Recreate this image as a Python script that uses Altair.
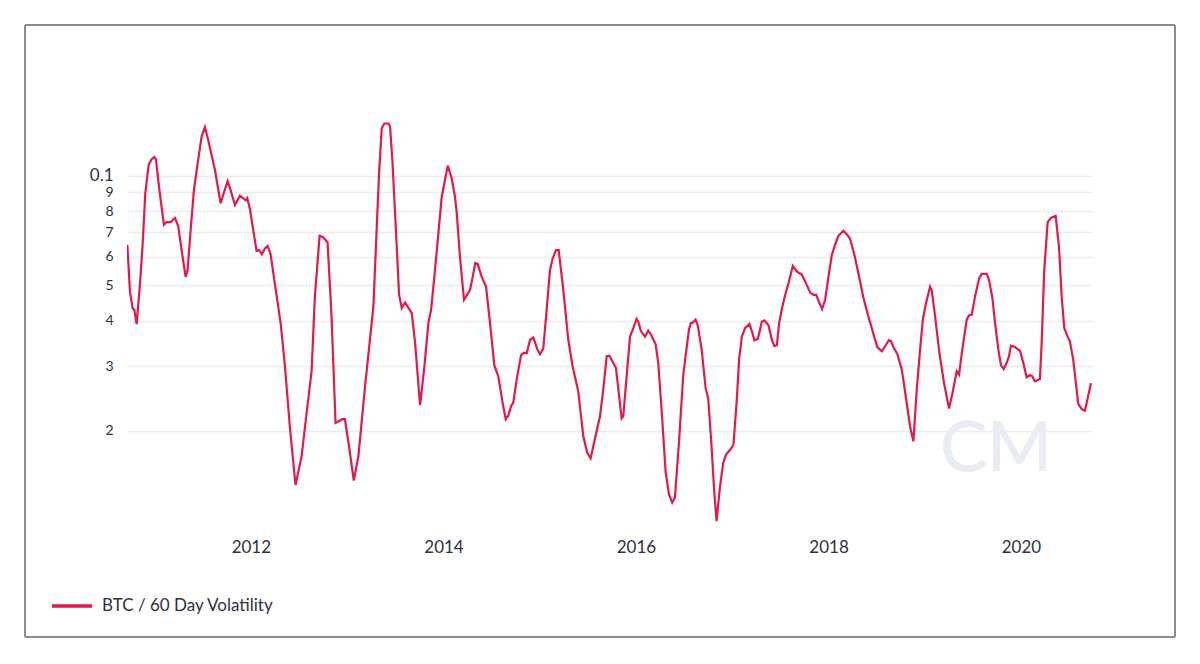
import altair as alt
import pandas as pd

# Decimal-year positions of the traced points
years = [
    2010.715, 2010.743, 2010.771, 2010.788, 2010.8125, 2010.847, 2010.875, 2010.902, 2010.937, 2010.968, 2010.995,
    2011.013, 2011.047, 2011.096, 2011.124, 2011.166, 2011.21, 2011.245, 2011.28, 2011.322, 2011.342, 2011.374,
    2011.408, 2011.442, 2011.488, 2011.522, 2011.556, 2011.626, 2011.685, 2011.719, 2011.758, 2011.789, 2011.834,
    2011.886, 2011.927, 2011.948, 2011.962, 2011.99,
    2012.024, 2012.059, 2012.086, 2012.114, 2012.145, 2012.174, 2012.205, 2012.249, 2012.309, 2012.353, 2012.405,
    2012.464, 2012.527, 2012.579, 2012.631, 2012.665, 2012.714, 2012.751, 2012.797, 2012.838, 2012.88, 2012.907,
    2012.949, 2012.977,
    2013.018, 2013.067, 2013.115, 2013.184, 2013.271, 2013.306, 2013.33, 2013.358, 2013.385, 2013.427, 2013.444,
    2013.468, 2013.503, 2013.538, 2013.566, 2013.6, 2013.67, 2013.704, 2013.756, 2013.801, 2013.842, 2013.87,
    2013.904, 2013.946, 2013.981,
    2014.044, 2014.085, 2014.119, 2014.137, 2014.171, 2014.213, 2014.275, 2014.303, 2014.33, 2014.355, 2014.397,
    2014.442, 2014.483, 2014.528, 2014.569, 2014.615, 2014.646, 2014.673, 2014.701, 2014.725, 2014.761, 2014.805,
    2014.836, 2014.864, 2014.899, 2014.933, 2014.975,
    2015.003, 2015.037, 2015.072, 2015.107, 2015.134, 2015.169, 2015.197, 2015.245, 2015.297, 2015.342, 2015.401,
    2015.453, 2015.494, 2015.529, 2015.564, 2015.626, 2015.66, 2015.696, 2015.723, 2015.764, 2015.792, 2015.851,
    2015.868, 2015.903, 2015.938, 2015.972,
    2016.007, 2016.024, 2016.052, 2016.094, 2016.128, 2016.156, 2016.205, 2016.232, 2016.267, 2016.309, 2016.343,
    2016.377, 2016.405, 2016.447, 2016.491, 2016.516, 2016.551, 2016.571, 2016.595, 2016.62, 2016.641, 2016.683,
    2016.724, 2016.751, 2016.786, 2016.813, 2016.838, 2016.873, 2016.907, 2016.935, 2016.977,
    2017.011, 2017.046, 2017.07, 2017.098, 2017.132, 2017.177, 2017.202, 2017.229, 2017.265, 2017.306, 2017.333,
    2017.375, 2017.41, 2017.437, 2017.462, 2017.486, 2017.52, 2017.548, 2017.582, 2017.628, 2017.67, 2017.722,
    2017.766, 2017.808, 2017.842, 2017.87, 2017.905, 2017.932, 2017.964, 2017.998,
    2018.033, 2018.068, 2018.102, 2018.154, 2018.189, 2018.223, 2018.265, 2018.31, 2018.362, 2018.413, 2018.465,
    2018.507, 2018.553, 2018.597, 2018.626, 2018.649, 2018.673, 2018.715, 2018.761, 2018.813, 2018.847, 2018.881,
    2018.916, 2018.951, 2018.979,
    2019.013, 2019.055, 2019.072, 2019.107, 2019.152, 2019.2, 2019.252, 2019.287, 2019.332, 2019.356, 2019.39,
    2019.436, 2019.46, 2019.488, 2019.522, 2019.564, 2019.592, 2019.644, 2019.668, 2019.702, 2019.73, 2019.764,
    2019.792, 2019.82, 2019.851, 2019.875, 2019.896, 2019.938, 2019.99,
    2020.024, 2020.059, 2020.094, 2020.117, 2020.145, 2020.197, 2020.215, 2020.242, 2020.277, 2020.312, 2020.36,
    2020.395, 2020.423, 2020.45, 2020.485, 2020.509, 2020.543, 2020.595, 2020.631, 2020.665, 2020.727,
]

# BTC 60-day volatility values
volatility = [
    0.0647, 0.0481, 0.0432, 0.0429, 0.0392, 0.0506, 0.0651, 0.0895, 0.1071, 0.111, 0.1125,
    0.111, 0.0923, 0.0733, 0.0746, 0.0746, 0.0766, 0.0726, 0.0625, 0.0528, 0.0551, 0.0711,
    0.0913, 0.106, 0.128, 0.1358, 0.1253, 0.1038, 0.084, 0.0898, 0.0967, 0.0913, 0.0831,
    0.0881, 0.0864, 0.0856, 0.0867, 0.0809,
    0.0711, 0.0622, 0.0625, 0.0609, 0.0631, 0.0642, 0.0609, 0.0506, 0.0395, 0.0303, 0.0205,
    0.0142, 0.017, 0.0223, 0.0291, 0.0466, 0.0684, 0.0678, 0.0656, 0.0412, 0.021, 0.0212,
    0.0215, 0.0215,
    0.0181, 0.0146, 0.017, 0.0264, 0.0438, 0.0726, 0.1016, 0.135, 0.139, 0.139, 0.1363,
    0.1104, 0.0726, 0.0471, 0.0434, 0.0449, 0.042, 0.0348, 0.0235, 0.03, 0.0395, 0.0429,
    0.0528, 0.0696, 0.0877,
    0.1065, 0.0984, 0.0877, 0.0792, 0.0598, 0.0457, 0.0486, 0.0528, 0.0576, 0.0573, 0.0528,
    0.0496, 0.0395, 0.0302, 0.0282, 0.0238, 0.0215, 0.022, 0.0233, 0.0239, 0.0277, 0.0322,
    0.0327, 0.0326, 0.0355, 0.036, 0.0334,
    0.0324, 0.0336, 0.0429, 0.0551, 0.0592, 0.0625, 0.0625, 0.0486, 0.0355, 0.03, 0.0256,
    0.0193, 0.0174, 0.0168, 0.0185, 0.0219, 0.0259, 0.032, 0.0321, 0.0307, 0.0297, 0.0216,
    0.0219, 0.0282, 0.0362, 0.0382,
    0.0405, 0.0398, 0.0375, 0.0362, 0.0376, 0.0367, 0.0345, 0.0307, 0.0228, 0.0154, 0.0134,
    0.0127, 0.0131, 0.0185, 0.0282, 0.032, 0.0378, 0.0395, 0.0396, 0.0403, 0.039, 0.0334,
    0.0262, 0.0245, 0.0181, 0.0137, 0.0113, 0.014, 0.0163, 0.0172, 0.0177,
    0.0183, 0.0243, 0.0313, 0.0362, 0.0382, 0.0392, 0.0375, 0.0354, 0.0357, 0.0398, 0.0401,
    0.0389, 0.0355, 0.0341, 0.0343, 0.0395, 0.0438, 0.0471, 0.0506, 0.0566, 0.0546, 0.0535,
    0.0506, 0.0478, 0.0471, 0.0471, 0.0447, 0.0431, 0.0457, 0.0528,
    0.0605, 0.0647, 0.0684, 0.0706, 0.0691, 0.0672, 0.0612, 0.054, 0.0463, 0.0412, 0.0369,
    0.0339, 0.033, 0.0344, 0.0354, 0.0352, 0.0339, 0.0324, 0.0294, 0.0237, 0.0205, 0.0187,
    0.0259, 0.0334, 0.0403,
    0.0447, 0.0496, 0.0486, 0.0412, 0.0327, 0.027, 0.023, 0.0253, 0.0291, 0.0285, 0.0334,
    0.0403, 0.0414, 0.0416, 0.0466, 0.0523, 0.0538, 0.0538, 0.0517, 0.0463, 0.0395, 0.0334,
    0.0302, 0.0295, 0.0307, 0.032, 0.0342, 0.0339, 0.0331,
    0.0307, 0.028, 0.0284, 0.0282, 0.0273, 0.0277, 0.0348, 0.0551, 0.0744, 0.0766, 0.0776,
    0.0639, 0.0466, 0.0382, 0.0362, 0.0351, 0.0313, 0.0237, 0.0229, 0.0227, 0.027,
]

series_name = "BTC / 60 Day Volatility"
y_ticks = [0.02, 0.03, 0.04, 0.05, 0.06, 0.07, 0.08, 0.09, 0.1]
x_tick_years = [2012, 2014, 2016, 2018, 2020]
x_range_years = [2010.712, 2020.738]
y_range = [0.010686, 0.1612]


def to_date(y):
    base = pd.Timestamp(year=int(y), month=1, day=1)
    return base + pd.Timedelta(days=(y - int(y)) * 365.25)


df = pd.DataFrame({
    "date": [to_date(y) for y in years],
    "value": volatility,
    "series": series_name,
})

x_dom = [to_date(y).isoformat() for y in x_range_years]
x_vals = [pd.Timestamp(year=y, month=1, day=1).isoformat() for y in x_tick_years]

LINE = "#e5174b"
TEXT = "#2e3142"
FONT = "Lato"

line = alt.Chart(df).mark_line(strokeWidth=2.2, clip=True).encode(
    x=alt.X(
        "date:T",
        scale=alt.Scale(domain=x_dom),
        axis=alt.Axis(
            values=x_vals, format="%Y", title=None, domain=False, ticks=False,
            tickSize=0, grid=False, labelPadding=9, labelFontSize=17,
            labelFont=FONT, labelColor=TEXT,
        ),
    ),
    y=alt.Y(
        "value:Q",
        scale=alt.Scale(type="log", domain=y_range, nice=False),
        axis=alt.Axis(
            values=y_ticks, title=None, domain=False, ticks=False, tickSize=0,
            grid=True, gridColor="#ececec", gridWidth=1.5,
            labelExpr="datum.value > 0.095 ? '0.1' : format(round(datum.value * 100), 'd')",
            labelFontSize={"condition": {"test": "datum.value > 0.095", "value": 17}, "value": 14},
            labelFont=FONT, labelColor=TEXT, labelPadding=14,
        ),
    ),
    color=alt.Color(
        "series:N",
        scale=alt.Scale(domain=[series_name], range=[LINE]),
        legend=alt.Legend(
            title=None, orient="none", legendX=-77, legendY=484,
            symbolType="stroke", symbolSize=1600, symbolStrokeWidth=3.5,
            labelFont=FONT, labelFontSize=17, labelColor=TEXT, labelOffset=8,
            labelLimit=0, padding=0,
        ),
    ),
)

watermark = alt.Chart(df).mark_text(
    text="CM", font=FONT, fontSize=70, fontWeight="normal", color="#e9ecf3",
    align="center", baseline="middle",
).encode(x=alt.value(869), y=alt.value(350))

frame = alt.Chart(df).mark_rect(
    fill="transparent", stroke="#8c8c8c", strokeWidth=1,
).encode(
    x=alt.value(-102), x2=alt.value(1048), y=alt.value(-75), y2=alt.value(537)
)

chart = alt.layer(watermark, line, frame).properties(
    width=965, height=430,
    background="white",
    autosize=alt.AutoSizeParams(type="none"),
    padding={"left": 119, "top": 92, "right": 100, "bottom": 110},
).configure_view(strokeWidth=0, stroke=None)

chart.save("out.html", embed_options={"renderer": "svg", "actions": False})
